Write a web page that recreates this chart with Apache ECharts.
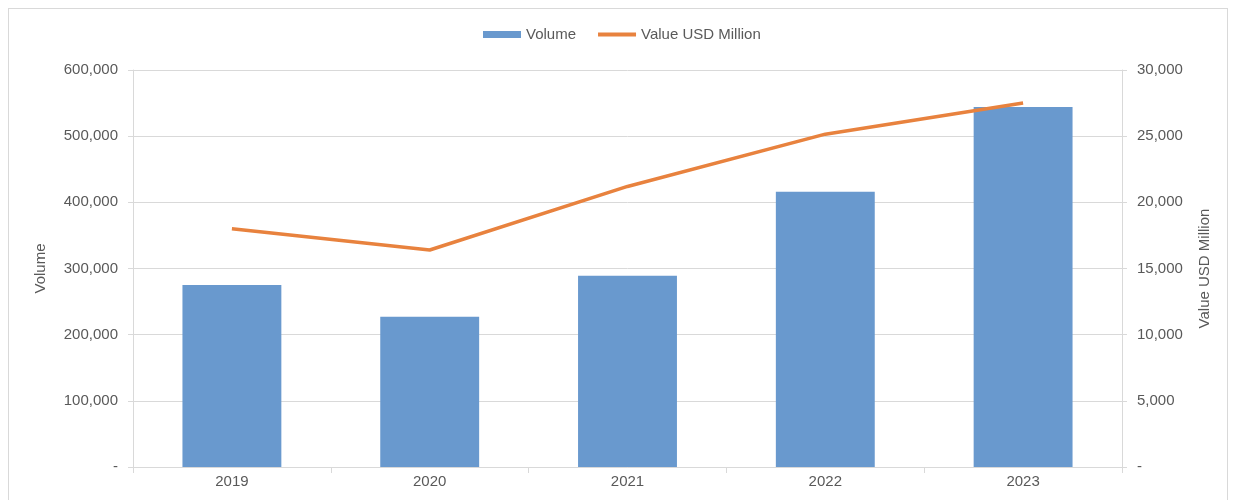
<!DOCTYPE html>
<html>
<head>
<meta charset="utf-8">
<script src="https://cdn.jsdelivr.net/npm/echarts@6/dist/echarts.min.js"></script>
<style>
html,body{margin:0;padding:0;background:#fff;}
#frame{position:absolute;left:8px;top:8px;width:1220px;height:520px;border:1px solid #d9d9d9;box-sizing:border-box;}
#chart{position:absolute;left:0;top:0;width:1236px;height:500px;}
</style>
</head>
<body>
<div id="frame"></div>
<div id="chart"></div>
<script>
const years = ['2019', '2020', '2021', '2022', '2023'];
const volume = [275000, 227000, 289000, 416000, 544000];
const valueUSD = [18000, 16400, 21200, 25150, 27500];

const fmt = v => v === 0 ? '-' : v.toLocaleString('en-US');
const font = 'Liberation Sans, Arial, Helvetica, sans-serif';
const txt = '#595959';
const lineGray = '#d9d9d9';

const chart = echarts.init(document.getElementById('chart'));
chart.setOption({
  animation: false,
  textStyle: { fontFamily: font },
  legend: {
    top: 22,
    left: 478,
    itemGap: 20,
    itemHeight: 7,
    itemWidth: 38,
    textStyle: { color: txt, fontSize: 15, fontFamily: font },
    data: [
      { name: 'Volume', icon: 'rect' },
      { name: 'Value USD Million', itemStyle: { opacity: 0 }, lineStyle: { width: 4, color: '#E8823E' } }
    ]
  },
  grid: { left: 133, right: 114, top: 70, bottom: 33 },
  xAxis: {
    type: 'category',
    data: years,
    axisLine: { lineStyle: { color: lineGray, width: 1 } },
    axisTick: { show: true, lineStyle: { color: lineGray }, length: 6 },
    axisLabel: { color: txt, fontSize: 15, margin: 7 }
  },
  yAxis: [
    {
      type: 'value', min: 0, max: 600000, interval: 100000,
      name: 'Volume', nameLocation: 'middle', nameGap: 85,
      nameTextStyle: { color: txt, fontSize: 15 },
      axisLine: { show: true, lineStyle: { color: lineGray } },
      axisTick: { show: true, lineStyle: { color: lineGray }, length: 5 },
      axisLabel: { color: txt, fontSize: 15, formatter: fmt, margin: 15 },
      splitLine: { lineStyle: { color: lineGray, width: 1 } }
    },
    {
      type: 'value', min: 0, max: 30000, interval: 5000,
      name: 'Value USD Million', nameLocation: 'middle', nameGap: 75,
      nameTextStyle: { color: txt, fontSize: 15 },
      axisLine: { show: true, lineStyle: { color: lineGray } },
      axisTick: { show: true, lineStyle: { color: lineGray }, length: 5 },
      axisLabel: { color: txt, fontSize: 15, formatter: fmt, margin: 15 },
      splitLine: { show: false }
    }
  ],
  series: [
    {
      name: 'Volume', type: 'bar', data: volume, yAxisIndex: 0,
      barWidth: '50%',
      itemStyle: { color: '#6999CE' }
    },
    {
      name: 'Value USD Million', type: 'line', data: valueUSD, yAxisIndex: 1,
      symbol: 'none',
      lineStyle: { color: '#E8823E', width: 3.5 },
      itemStyle: { color: '#E8823E' }
    }
  ]
});
</script>
</body>
</html>
